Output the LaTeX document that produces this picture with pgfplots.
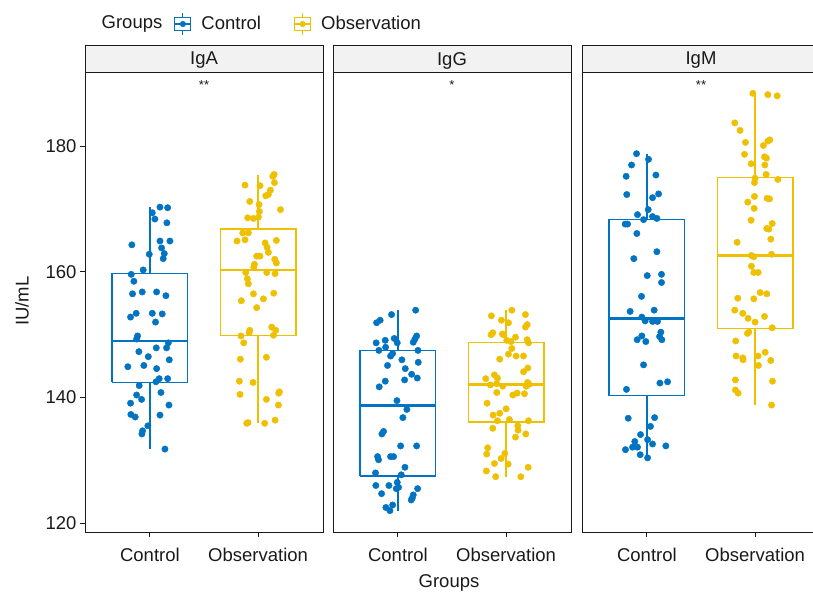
\documentclass[border=0pt]{standalone}
\usepackage{fontspec}
\setmainfont{Liberation Sans}
\usepackage{pgfplots}
\pgfplotsset{compat=1.18}

\definecolor{ctrl}{HTML}{0073C2}
\definecolor{obsv}{HTML}{EFC000}
\definecolor{stripgray}{HTML}{F2F2F2}
\definecolor{ink}{HTML}{1A1A1A}
\newcommand{\basefont}{\fontsize{18.5}{22}\selectfont}

\pgfplotsset{
  panel/.style={
    scale only axis, width=238pt, height=460pt, anchor=south west,
    xmin=0.4, xmax=2.6, ymin=118.6, ymax=191.8,
    xtick={1,2}, xticklabels={Control,Observation},
    xtick pos=left, ytick pos=left, tick align=outside,
    major tick length=5pt,
    axis line style={line width=0.9pt, ink},
    tick style={line width=0.9pt, ink},
    ticklabel style={font=\basefont, text=ink},
    xticklabel style={yshift=-8pt},
    /pgf/number format/assume math mode=true,
    clip=false,
  },
  bx/.style={line width=1.25pt, forget plot, line join=miter},
  pts/.style={only marks, mark=*, mark size=3.2pt, forget plot},
}

\begin{document}
\begin{tikzpicture}
\useasboundingbox (0pt,0pt) rectangle (813pt,592pt);

% ---------- IgA ----------
\begin{axis}[panel, at={(85pt,60pt)}, ytick={120,140,160,180},
  legend style={at={(0.362,1.1043)}, anchor=west, draw=none, fill=none,
    font=\basefont, text=ink, legend columns=2,
    /tikz/every odd column/.append style={column sep=8pt},
    /tikz/every even column/.append style={column sep=31pt}},
  legend cell align=left]
\addlegendimage{legend image code/.code={
  \draw[ctrl, line width=1.1pt] (8pt,-11pt) -- (8pt,11pt);
  \draw[ctrl, line width=1.1pt, fill=white] (0pt,-6.5pt) rectangle (16pt,6.5pt);
  \draw[ctrl, line width=1.1pt] (0pt,0pt) -- (16pt,0pt);
  \fill[ctrl] (8pt,0pt) circle (2.8pt);}}
\addlegendentry{Control}
\addlegendimage{legend image code/.code={
  \draw[obsv, line width=1.1pt] (8pt,-11pt) -- (8pt,11pt);
  \draw[obsv, line width=1.1pt, fill=white] (0pt,-6.5pt) rectangle (16pt,6.5pt);
  \draw[obsv, line width=1.1pt] (0pt,0pt) -- (16pt,0pt);
  \fill[obsv] (8pt,0pt) circle (2.8pt);}}
\addlegendentry{Observation}

% Control box: whiskers 131.8/170.3, quartiles 142.4/159.7, median 149.0
\addplot[ctrl, bx] coordinates {(1,131.8) (1,142.4)};
\addplot[ctrl, bx] coordinates {(1,159.7) (1,170.3)};
\addplot[ctrl, bx, fill=white] coordinates {(0.65,142.4) (1.35,142.4) (1.35,159.7) (0.65,159.7) (0.65,142.4)};
\addplot[ctrl, bx, line width=2.4pt] coordinates {(0.65,149.0) (1.35,149.0)};
% Observation box
\addplot[obsv, bx] coordinates {(2,135.9) (2,149.9)};
\addplot[obsv, bx] coordinates {(2,166.8) (2,175.4)};
\addplot[obsv, bx, fill=white] coordinates {(1.65,149.9) (2.35,149.9) (2.35,166.8) (1.65,166.8) (1.65,149.9)};
\addplot[obsv, bx, line width=2.4pt] coordinates {(1.65,160.3) (2.35,160.3)};

\addplot[ctrl, pts] table {
x y
1.093 170.3
1.164 170.2
1.022 169.4
1.046 168.4
1.157 167.8
1.093 164.9
1.185 164.9
0.833 164.3
1.108 163.8
1.133 162.9
1.123 162.1
0.994 162.8
0.938 160.3
0.827 159.6
0.852 158.5
0.839 156.5
0.929 156.8
1.062 156.8
1.148 156.2
0.873 153.4
0.821 152.8
1.022 153.4
1.114 153.3
1.052 152.0
0.886 149.8
0.877 149.3
1.170 148.7
1.154 147.9
1.059 147.9
0.898 147.3
0.985 146.5
1.179 146.0
0.796 144.9
0.944 145.1
1.062 144.6
1.056 142.5
1.086 143.0
1.164 143.0
0.901 141.9
0.877 140.4
0.923 139.7
1.102 140.8
0.821 139.1
1.176 138.8
0.824 137.3
0.864 136.9
1.093 137.2
0.981 135.5
0.932 134.7
0.926 134.2
1.139 131.8
};
\addplot[obsv, pts] table {
x y
2.148 175.5
2.136 175.2
1.879 173.8
2.018 173.7
2.151 174.2
2.114 173.0
2.095 172.3
2.071 172.1
1.923 171.2
2.009 170.7
2.012 169.6
2.207 169.9
1.904 168.6
1.957 168.5
2.003 168.7
1.858 166.2
1.910 166.2
1.805 164.9
1.879 165.1
2.169 165.0
2.065 164.6
2.083 163.9
2.095 163.1
1.987 162.5
2.018 162.5
2.154 162.0
2.169 161.4
1.966 161.2
1.960 160.7
1.886 159.9
2.080 159.9
2.157 159.7
1.901 158.9
1.910 158.1
1.957 156.5
2.145 156.6
1.845 155.4
2.049 155.7
1.987 154.3
1.923 150.7
1.917 150.3
2.126 151.2
2.163 150.7
2.142 149.9
1.842 149.8
1.867 148.7
1.836 146.1
2.077 146.4
1.827 142.6
1.953 142.4
1.833 140.5
2.197 140.9
2.191 140.7
2.077 139.7
2.188 138.8
1.895 135.9
1.907 136.0
2.061 135.9
2.157 136.4
};
\end{axis}

% ---------- IgG ----------
\begin{axis}[panel, at={(333pt,60pt)}, ytick=\empty]
\addplot[ctrl, bx] coordinates {(1,122.0) (1,127.5)};
\addplot[ctrl, bx] coordinates {(1,147.5) (1,153.9)};
\addplot[ctrl, bx, fill=white] coordinates {(0.65,127.5) (1.35,127.5) (1.35,147.5) (0.65,147.5) (0.65,127.5)};
\addplot[ctrl, bx, line width=2.4pt] coordinates {(0.65,138.7) (1.35,138.7)};
\addplot[obsv, bx] coordinates {(2,127.4) (2,136.1)};
\addplot[obsv, bx] coordinates {(2,148.7) (2,153.9)};
\addplot[obsv, bx, fill=white] coordinates {(1.65,136.1) (2.35,136.1) (2.35,148.7) (1.65,148.7) (1.65,136.1)};
\addplot[obsv, bx, line width=2.4pt] coordinates {(1.65,142.1) (2.35,142.1)};

\addplot[ctrl, pts] table {
x y
1.164 153.9
0.941 153.2
0.803 151.9
0.836 152.3
0.799 148.7
0.883 149.1
0.966 149.4
0.994 148.7
1.142 148.8
1.173 149.8
1.157 149.3
0.824 147.5
0.886 148.0
0.951 147.0
0.932 146.6
1.185 147.5
1.037 146.0
1.188 145.6
0.904 145.1
1.068 144.6
1.127 143.7
1.179 143.1
1.062 142.8
0.883 142.6
0.827 141.7
0.991 139.5
1.083 138.1
1.046 136.8
0.867 134.6
0.852 134.2
1.025 132.3
1.173 132.3
0.812 130.6
0.821 130.1
0.932 130.6
0.960 130.6
1.065 128.9
0.793 128.0
1.031 127.7
0.796 126.0
0.917 126.0
0.994 126.5
0.985 125.5
1.006 125.7
0.849 124.7
1.182 125.5
1.142 124.5
1.123 123.7
1.133 124.0
0.889 122.5
0.951 122.9
0.926 122.0
};
\addplot[obsv, pts] table {
x y
2.053 153.9
1.864 153.0
2.179 153.2
1.957 152.3
2.022 151.9
2.195 151.6
2.179 151.2
1.877 150.3
1.861 150.0
1.966 150.1
1.975 150.0
2.087 149.6
2.006 149.1
2.046 148.9
2.195 149.2
2.207 148.7
2.053 147.8
2.022 146.9
2.093 146.6
2.161 146.6
1.941 146.1
2.201 144.7
2.161 144.1
1.892 143.6
1.920 143.1
1.812 143.0
1.855 142.0
1.914 142.2
1.969 141.8
2.198 142.4
2.213 142.1
2.185 141.8
1.914 140.8
2.062 140.4
2.102 140.7
2.170 140.6
1.824 139.1
2.000 138.2
1.941 137.5
1.880 137.2
1.920 136.3
2.031 136.5
2.207 136.3
1.877 135.1
2.108 135.5
2.111 134.8
2.087 133.7
2.182 134.2
1.830 132.0
1.821 131.0
1.988 131.1
1.954 130.3
1.892 129.5
2.019 129.4
2.204 128.9
1.818 128.3
1.904 127.4
2.136 127.4
};
\end{axis}

% ---------- IgM ----------
\begin{axis}[panel, at={(582pt,60pt)}, ytick=\empty]
\addplot[ctrl, bx] coordinates {(1,130.4) (1,140.3)};
\addplot[ctrl, bx] coordinates {(1,168.3) (1,178.7)};
\addplot[ctrl, bx, fill=white] coordinates {(0.65,140.3) (1.35,140.3) (1.35,168.3) (0.65,168.3) (0.65,140.3)};
\addplot[ctrl, bx, line width=2.4pt] coordinates {(0.65,152.6) (1.35,152.6)};
\addplot[obsv, bx] coordinates {(2,138.8) (2,151.0)};
\addplot[obsv, bx] coordinates {(2,175.0) (2,188.4)};
\addplot[obsv, bx, fill=white] coordinates {(1.65,151.0) (2.35,151.0) (2.35,175.0) (1.65,175.0) (1.65,151.0)};
\addplot[obsv, bx, line width=2.4pt] coordinates {(1.65,162.6) (2.35,162.6)};

\addplot[ctrl, pts] table {
x y
0.904 178.8
1.015 177.9
0.858 177.0
0.808 175.2
1.083 175.4
0.814 172.3
1.108 172.4
1.052 171.8
1.012 169.9
0.913 169.1
0.969 168.3
1.052 168.8
1.092 168.5
0.799 167.6
0.821 167.6
0.907 166.1
1.092 163.2
0.879 162.1
1.003 159.4
1.135 159.6
1.135 158.3
0.950 156.1
0.845 153.7
1.067 153.9
0.953 152.8
0.984 152.2
1.052 152.1
1.098 152.1
1.129 150.4
0.953 149.8
0.910 149.2
0.990 148.9
1.117 149.7
1.138 149.2
0.969 145.2
1.120 142.3
1.191 142.5
0.811 141.3
0.827 136.7
1.071 136.8
1.033 135.4
0.941 134.1
0.888 133.0
1.006 133.3
1.052 132.6
1.175 132.3
0.802 131.7
0.867 132.1
0.913 132.1
0.938 130.9
1.006 130.4
};
\addplot[obsv, pts] table {
x y
1.979 188.4
2.118 188.2
2.204 188.0
1.812 183.7
1.861 182.5
1.911 180.6
2.136 181.0
2.118 180.8
2.077 180.1
1.902 178.7
2.087 178.3
2.105 178.1
1.963 177.2
2.090 177.0
2.102 175.5
2.000 174.9
2.210 174.7
1.994 174.2
1.994 172.0
1.932 171.1
2.111 171.7
2.133 171.6
1.991 170.1
1.963 168.2
2.158 167.7
2.108 166.9
2.127 166.8
2.145 165.2
1.834 164.7
1.966 162.6
1.988 162.4
2.152 162.8
1.966 160.9
1.988 159.9
2.028 159.9
2.047 156.7
2.108 156.5
1.840 155.8
1.988 155.7
1.812 153.9
1.886 153.4
1.935 152.6
2.000 152.0
2.087 152.9
2.158 151.1
1.942 150.4
1.929 150.2
1.821 149.0
1.824 146.6
1.886 146.3
1.889 146.0
2.028 146.6
2.093 147.2
2.145 145.9
2.031 145.1
1.818 142.8
2.161 142.6
1.818 141.2
1.843 140.7
2.152 138.8
};
\end{axis}

% strips, labels, annotations
\foreach \x/\name in {85/IgA, 333/IgG, 582/IgM}{
  \draw[fill=stripgray, line width=0.9pt, draw=ink] (\x pt,520pt) rectangle ({\x pt+238pt},547pt);
  \node[font=\basefont, text=ink] at ({\x pt+119pt},531.5pt) {\name};
}
\node[font=\fontsize{13}{15}\selectfont, text=ink] at (204pt,507pt) {**};
\node[font=\fontsize{13}{15}\selectfont, text=ink] at (452pt,507pt) {*};
\node[font=\fontsize{13}{15}\selectfont, text=ink] at (701pt,507pt) {**};
\node[font=\basefont, text=ink, rotate=90] at (22pt,291pt) {IU/mL};
\node[font=\basefont, text=ink] at (449pt,9pt) {Groups};
\node[font=\basefont, text=ink] at (132pt,568pt) {Groups};
\end{tikzpicture}
\end{document}
